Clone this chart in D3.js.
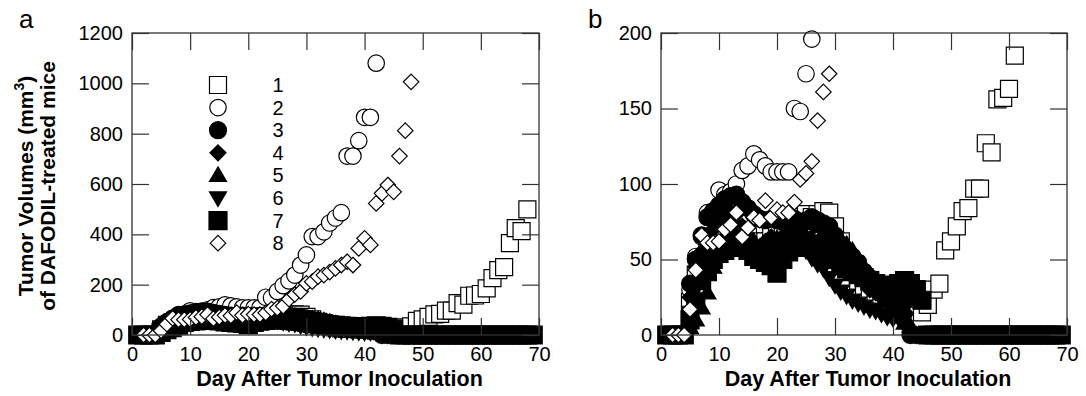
<!DOCTYPE html>
<html>
<head>
<meta charset="utf-8">
<script src="https://cdn.jsdelivr.net/npm/d3@7"></script>
<style>
  body { margin: 0; background: #fff; }
  svg text { font-family: "Liberation Sans", Arial, sans-serif; }
</style>
</head>
<body>
<div id="chart"></div>
<script>
// day after inoculation, shared by all the groups
var days = [1,2,3,4,5,6,7,8,9,10,11,12,13,14,15,16,17,18,19,20,
  21,22,23,24,25,26,27,28,29,30,31,32,33,34,35,36,37,38,39,40,
  41,42,43,44,45,46,47,48,49,50,51,52,53,54,55,56,57,58,59,60,
  61,62,63,64,65,66,67,68,69];

// tumor volumes (mm3) per group, null = no measurement
var group1 = [0,0,0,0,22,40,50,56,60,64, 66,68,70,68,65,62,60,62,65,68,
  70,72,75,78,80,78,80,82,81,72, 62,52,44,36,30,26,24,24,22,22,
  24,26,26,24,15,20,30,34,56,62, 72,82,84,97,97,127,121,156,157,163,
  185,226,258,270,365,425,413,499,null];
var group2 = [0,0,0,0,30,52,65,81,82,96, 93,95,100,109,112,120,116,112,108,108,
  108,108,150,148,173,196,215,238,278,318, 391,391,410,445,465,486,711,711,772,865,
  865,1080,null,null,null,null,null,null,null,null, null,null,null,null,null,null,null,null,null,null,
  null,null,null,null,null,null,null,null,null];
var group3 = [0,0,0,0,34,50,66,78,82,86, 90,92,93,88,84,80,77,76,77,76,
  75,76,77,74,76,78,76,74,72,66, 60,56,52,48,42,38,34,30,28,26,
  24,22,0,0,0,0,0,0,0,0, 0,0,0,0,0,0,0,0,0,0, 0,0,0,0,0,0,0,0,0];
var group4 = [0,0,0,0,25,45,55,62,70,75, 78,82,80,72,65,60,58,62,65,60,
  58,62,65,60,58,55,60,65,60,55, 50,45,42,38,35,30,28,25,22,20,
  18,15,0,0,0,0,0,0,0,0, 0,0,0,0,0,0,0,0,0,0, 0,0,0,0,0,0,0,0,0];
var group5 = [0,0,0,0,5,10,18,28,45,58, 66,70,72,68,65,62,58,60,62,64,
  66,68,70,72,74,76,72,68,64,62, 63,60,56,50,44,40,36,32,26,20,
  12,8,6,0,0,0,0,0,0,0, 0,0,0,0,0,0,0,0,0,0, 0,0,0,0,0,0,0,0,0];
var group6 = [0,0,0,0,15,30,42,50,55,58, 60,62,64,62,60,58,56,55,56,58,
  60,62,64,60,56,51,47,44,38,33, 29,26,23,21,19,17,16,14,12,11,
  11,10,0,0,0,0,0,0,0,0, 0,0,0,0,0,0,0,0,0,0, 0,0,0,0,0,0,0,0,0];
var group7 = [0,0,0,0,10,22,36,42,50,54, 56,58,60,58,56,52,50,48,46,41,
  50,55,58,60,62,60,58,56,54,50, 46,44,42,40,38,36,34,33,32,32,
  34,36,34,30,23,0,0,0,0,0, 0,0,0,0,0,0,0,0,0,0, 0,0,0,0,0,0,0,0,0];
var group8 = [null,0,0,0,17,43,66,61,61,62, 70,73,81,65,71,78,76,89,78,83,
  81,81,88,103,107,115,142,161,173,205, 212,232,238,250,265,278,291,278,344,384,
  358,523,563,596,569,711,812,1006,null,null, null,null,null,null,null,null,null,null,null,null,
  null,null,null,null,null,null,null,null,null];

var groupNames = ["1","2","3","4","5","6","7","8"];
var xTicks = [0,10,20,30,40,50,60,70];
var yTicksA = [0,200,400,600,800,1000,1200];
var yTicksB = [0,50,100,150,200];

var width = 1086, height = 396;

var svg = d3.select("#chart")
  .append("svg")
    .attr("width", width)
    .attr("height", height);

// marker shapes, size = full width in px
var sqr = { draw: function(c, s) { var h = s / 2; c.moveTo(-h,-h); c.lineTo(h,-h); c.lineTo(h,h); c.lineTo(-h,h); c.closePath(); } };
var circ = { draw: function(c, s) { var r = s / 2; c.moveTo(r,0); c.arc(0,0,r,0,2*Math.PI); } };
var diam = { draw: function(c, s) { var h = s / 2; c.moveTo(0,-h); c.lineTo(h,0); c.lineTo(0,h); c.lineTo(-h,0); c.closePath(); } };
var triUp = { draw: function(c, s) { var h = s / 2; c.moveTo(0,-h); c.lineTo(h,h*0.72); c.lineTo(-h,h*0.72); c.closePath(); } };
var triDown = { draw: function(c, s) { var h = s / 2; c.moveTo(0,h); c.lineTo(h,-h*0.72); c.lineTo(-h,-h*0.72); c.closePath(); } };

var groups = [
  {vals: group1, type: sqr, size: 17, fill: "#fff"},
  {vals: group2, type: circ, size: 16.5, fill: "#fff"},
  {vals: group3, type: circ, size: 17, fill: "#000"},
  {vals: group4, type: diam, size: 16, fill: "#000"},
  {vals: group5, type: triUp, size: 17, fill: "#000"},
  {vals: group6, type: triDown, size: 17, fill: "#000"},
  {vals: group7, type: sqr, size: 18, fill: "#000"},
  {vals: group8, type: diam, size: 15.5, fill: "#fff"}
];

var drawPanel = function(box, ymax, yTicks, letter, letterX) {
  var x = d3.scaleLinear().domain([0,70]).range([box.left, box.right]);
  var y = d3.scaleLinear().domain([0,ymax]).range([box.bottom, box.top]);

  var g = svg.append("g");

  // points, group 1 drawn first and group 8 last
  groups.forEach(function(gr) {
    var pts = days.map(function(d,i) { return {d: d, v: gr.vals[i]}; })
      .filter(function(p) { return p.v !== null && p.v <= ymax; });
    g.append("g").selectAll("path")
      .data(pts)
      .enter().append("path")
        .attr("d", d3.symbol().type(gr.type).size(gr.size))
        .attr("transform", function(p) { return "translate(" + x(p.d) + "," + y(p.v) + ")"; })
        .attr("fill", gr.fill)
        .attr("stroke", "#000")
        .attr("stroke-width", 1.2);
  });

  var fmt = d3.format("d");
  var ax = [
    g.append("g").attr("transform", "translate(0," + box.bottom + ")")
      .call(d3.axisBottom(x).tickValues(xTicks).tickFormat(fmt).tickSizeInner(-17).tickSizeOuter(0).tickPadding(12)),
    g.append("g").attr("transform", "translate(0," + box.top + ")")
      .call(d3.axisTop(x).tickValues(xTicks).tickSizeInner(-17).tickSizeOuter(0).tickFormat("")),
    g.append("g").attr("transform", "translate(" + box.left + ",0)")
      .call(d3.axisLeft(y).tickValues(yTicks).tickFormat(fmt).tickSizeInner(-17).tickSizeOuter(0).tickPadding(9)),
    g.append("g").attr("transform", "translate(" + box.right + ",0)")
      .call(d3.axisRight(y).tickValues(yTicks).tickSizeInner(-17).tickSizeOuter(0).tickFormat(""))
  ];
  ax.forEach(function(a) {
    a.select(".domain").remove();
    a.selectAll("line").attr("stroke", "#333").attr("stroke-width", 1.2);
    a.selectAll("text").attr("font-size", 20).attr("fill", "#000")
      .style("font-family", "'Liberation Sans', Arial, sans-serif");
  });

  g.append("rect")
    .attr("x", box.left).attr("y", box.top)
    .attr("width", box.right - box.left).attr("height", box.bottom - box.top)
    .attr("fill", "none").attr("stroke", "#333").attr("stroke-width", 1.3);

  g.append("text")
    .attr("x", (box.left + box.right) / 2 + 4)
    .attr("y", 386)
    .attr("text-anchor", "middle")
    .attr("font-size", 21.5).attr("font-weight", "bold")
    .text("Day After Tumor Inoculation");

  g.append("text")
    .attr("x", letterX).attr("y", 28)
    .attr("font-size", 26)
    .text(letter);

  return {x: x, y: y};
};

drawPanel({left: 132, right: 539, top: 33, bottom: 335}, 1200, yTicksA, "a", 19);
drawPanel({left: 661, right: 1067, top: 33, bottom: 335}, 200, yTicksB, "b", 588);

// y title, two lines
var t1 = svg.append("text")
  .attr("transform", "translate(33,186) rotate(-90)")
  .attr("text-anchor", "middle")
  .attr("font-size", 21).attr("font-weight", "bold");
t1.append("tspan").text("Tumor Volumes (mm");
t1.append("tspan").attr("font-size", 14).attr("dy", -9).text("3");
t1.append("tspan").attr("dy", 9).text(")");

svg.append("text")
  .attr("transform", "translate(55,186) rotate(-90)")
  .attr("text-anchor", "middle")
  .attr("font-size", 21).attr("font-weight", "bold")
  .text("of DAFODIL-treated mice");

// legend in panel a
var legend = svg.append("g");
groups.forEach(function(gr, i) {
  var ly = 85 + i * 22.6;
  legend.append("path")
    .attr("d", d3.symbol().type(gr.type).size(gr.size))
    .attr("transform", "translate(218," + ly + ")")
    .attr("fill", gr.fill)
    .attr("stroke", "#000")
    .attr("stroke-width", 1.2);
  legend.append("text")
    .attr("x", 278).attr("y", ly + 7)
    .attr("text-anchor", "middle")
    .attr("font-size", 20)
    .text(groupNames[i]);
});
</script>
</body>
</html>
